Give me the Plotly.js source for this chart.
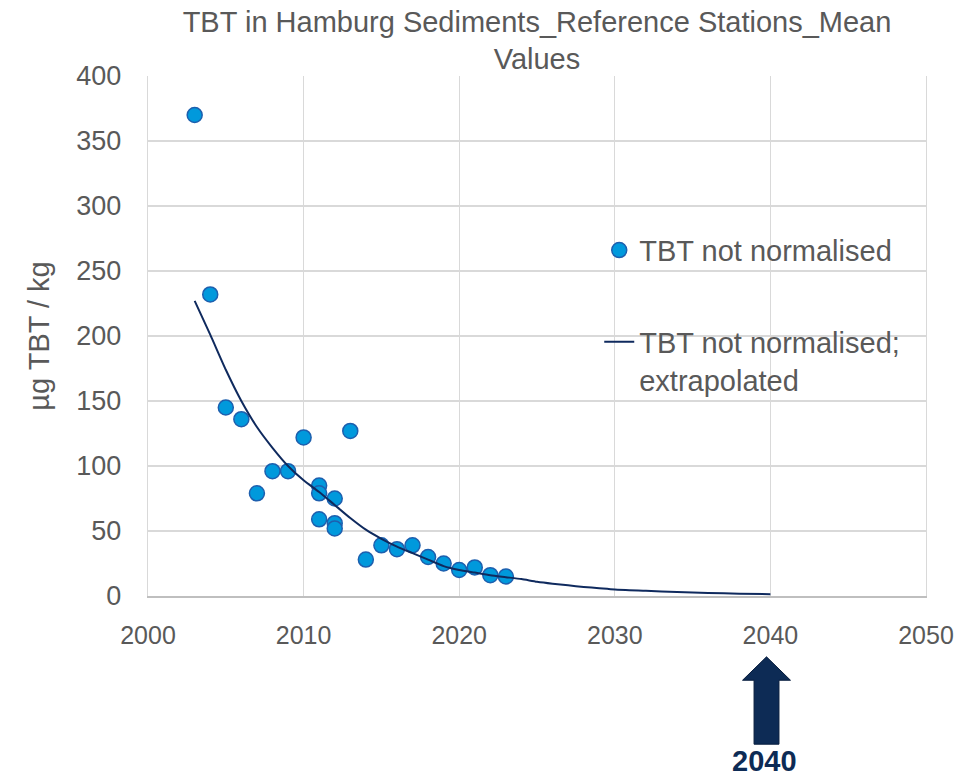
<!DOCTYPE html>
<html>
<head>
<meta charset="utf-8">
<script src="https://cdn.plot.ly/plotly-3.0.1.min.js"></script>
<style>html,body{margin:0;padding:0;background:#fff;}#chart{width:958px;height:782px;}</style>
</head>
<body>
<div id="chart"></div>
<script>
// Measured mean values (reference stations)
const years = [2003,2004,2005,2006,2007,2008,2009,2010,2011,2011,2011,2012,2012,2012,2013,2014,2015,2016,2017,2018,2019,2020,2021,2022,2023];
const tbtValues = [370,232,145,136,79,96,96,122,85,79,59,75,56,52,127,28,39,36,39,30,25,20,22,16,15];

// Extrapolated trend curve
const trendYears = [2003,2004,2005,2006,2007,2008,2009,2010,2011,2012,2013,2014,2015,2016,2017,2018,2019,2020,2021,2022,2023,2024,2025,2026,2027,2028,2029,2030,2032,2034,2036,2038,2040];
const trendValues = [227,201,174,150,130,114,100,89,80,70,60,51,44,38,33,28,23,20,18,16,14.5,13,11,9.5,8.2,7,6,5,4,3,2.3,1.8,1.4];

const xTicks = [2000,2010,2020,2030,2040,2050];
const yTicks = [0,50,100,150,200,250,300,350,400];
const targetYear = 2040;

const gray = '#595959';
const navy = '#0d2b55';
const font = 'Liberation Sans, Arial, sans-serif';

const traces = [
  {
    x: years, y: tbtValues, type: 'scatter', mode: 'markers',
    name: 'TBT not normalised', legendgroup: 'a',
    marker: {size: 15, color: '#0099dc', line: {color: '#1d5fae', width: 1.5}}
  },
  {
    x: trendYears, y: trendValues, type: 'scatter', mode: 'lines',
    name: 'TBT not normalised;<br>extrapolated', legendgroup: 'b',
    line: {color: '#0f2a5e', width: 2, shape: 'spline', smoothing: 0.6}
  }
];

// block arrow under the target year
const cx = targetYear - 0.25;
const tip = -0.117, headBase = -0.162, bottom = -0.285;
const hw = 1.54, sw = 0.80;

const layout = {
  width: 958, height: 782,
  margin: {l: 148, r: 32, t: 76, b: 186},
  paper_bgcolor: '#fff', plot_bgcolor: '#fff',
  font: {family: font, color: gray, size: 25},
  title: {
    text: 'TBT in Hamburg Sediments_Reference Stations_Mean<br>Values',
    font: {family: font, size: 29, color: gray},
    x: 0.5, xref: 'paper', yref: 'container', y: 0.9595, yanchor: 'top'
  },
  xaxis: {
    range: [2000, 2050], tickvals: xTicks, ticktext: xTicks.map(String),
    showgrid: true, gridcolor: '#d9d9d9', gridwidth: 1.3,
    showline: true, linecolor: '#bfbfbf', linewidth: 1.5,
    zeroline: false, ticks: '', ticklabelstandoff: 16,
    tickfont: {size: 25, color: gray}
  },
  yaxis: {
    range: [0, 400], tickvals: yTicks, ticktext: yTicks.map(String),
    showgrid: true, gridcolor: '#d9d9d9', gridwidth: 1.3,
    showline: true, linecolor: '#d9d9d9', linewidth: 1.3, mirror: true,
    zeroline: false, ticks: '', ticklabelstandoff: 20,
    tickfont: {size: 27, color: gray},
    title: {text: 'µg TBT / kg', font: {size: 29, color: gray}, standoff: 18}
  },
  showlegend: true,
  legend: {
    x: 0.58, xanchor: 'left', y: 0.714, yanchor: 'top',
    bgcolor: 'rgba(0,0,0,0)', font: {size: 29, color: gray},
    tracegroupgap: 51, valign: 'top', traceorder: 'grouped'
  },
  shapes: [{
    type: 'path', xref: 'x', yref: 'paper', layer: 'above',
    path: `M ${cx} ${tip} L ${cx + hw} ${headBase} L ${cx + sw} ${headBase} L ${cx + sw} ${bottom} L ${cx - sw} ${bottom} L ${cx - sw} ${headBase} L ${cx - hw} ${headBase} Z`,
    fillcolor: navy, line: {color: '#081d3d', width: 1}
  }],
  annotations: [{
    x: targetYear - 0.4, xref: 'x', y: -0.318, yref: 'paper',
    text: '<b>' + targetYear + '</b>', showarrow: false,
    font: {family: font, size: 29, color: navy}, xanchor: 'center', yanchor: 'middle'
  }]
};

Plotly.newPlot('chart', traces, layout, {staticPlot: true, displayModeBar: false});
</script>
</body>
</html>
